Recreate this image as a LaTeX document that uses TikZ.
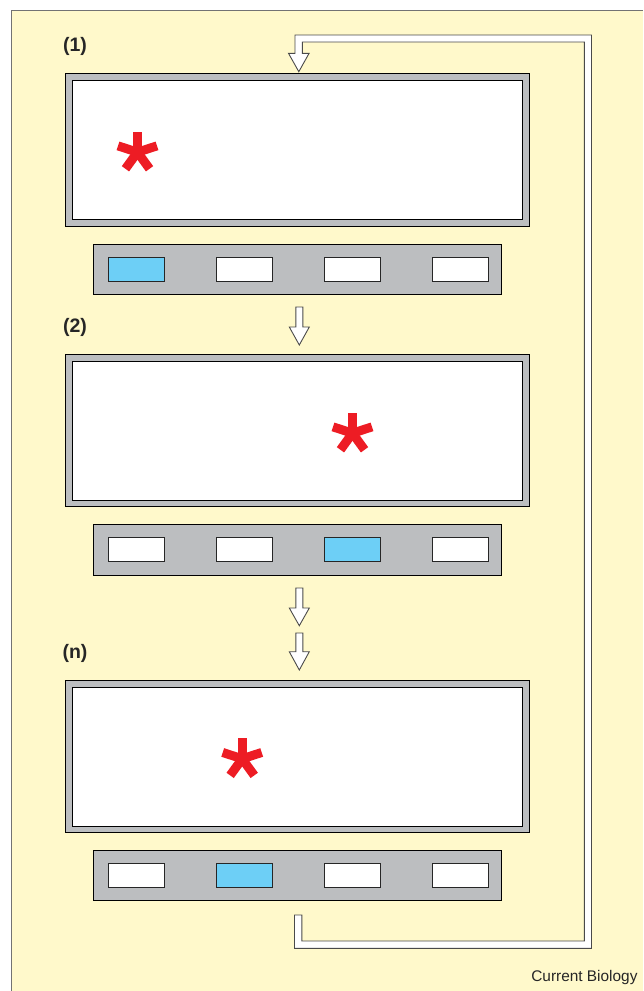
\documentclass[tikz,border=0pt]{standalone}
\usepackage{fontspec}
\setmainfont{Liberation Sans}
\definecolor{paper}{HTML}{FFF9CB}
\definecolor{bezel}{HTML}{BCBEC0}
\definecolor{lit}{HTML}{6DCFF6}
\definecolor{starred}{HTML}{ED1C24}
\definecolor{rim}{HTML}{4A4A4A}
\tikzset{
  frame/.style={draw=black, line width=1pt, fill=bezel, inner sep=0pt, outer sep=0pt,
    minimum width=463.6pt, minimum height=152.7pt},
  screen/.style={draw=black, line width=1pt, fill=white, inner sep=0pt, outer sep=0pt,
    minimum width=450pt, minimum height=139pt},
  strip/.style={draw=black, line width=1pt, fill=bezel, inner sep=0pt, outer sep=0pt,
    minimum width=408.4pt, minimum height=50.7pt},
  slot/.style={draw=black!85, line width=1pt, fill=white, inner sep=0pt, outer sep=0pt,
    minimum width=56pt, minimum height=24pt},
  slotlit/.style={slot, fill=lit},
  hollow/.style={draw=rim, line width=0.9pt, fill=white, line join=miter},
  steplabel/.style={font=\bfseries\fontsize{19.5}{20}\selectfont, text=black!85, inner sep=0pt},
  credit/.style={font=\fontsize{15.4}{16}\selectfont, text=black!85, inner sep=0pt},
  pics/asterisk/.style={code={
    \foreach \a in {270,342,198,126,54}
      \draw[draw=starred, line width=9pt] (0,0) -- (\a:20.5);
  }}
}
\begin{document}
\begin{tikzpicture}[x=1pt, y=-1pt]
\useasboundingbox (0,0) rectangle (643,991);
% panel background
\fill[paper] (11,10) rectangle (643,991);
\draw[black!55, line width=0.8pt] (11,991) -- (11,10) -- (643,10);

% feedback loop from the last strip back to the first screen
\draw[hollow] (294.5,915) -- (294.5,948.3) -- (591.5,948.3) -- (591.5,35) -- (295,35)
  -- (295,53.3) -- (288.5,53.3) -- (298.8,71.7) -- (309.1,53.3) -- (302.4,53.3)
  -- (302.4,42) -- (584.3,42) -- (584.3,941) -- (301.8,941) -- (301.8,915) -- cycle;

% step 1
\node[steplabel] (lab1) at (75,46) {(1)};
\node[frame] (frame1) at (297.5,149.65) {};
\node[screen] (screen1) at (297.5,149.8) {};
\pic at (137.5,152.2) {asterisk};
\node[strip] (strip1) at (297.5,269.35) {};
\node[slotlit] (s11) at (136.3,269.5) {};
\node[slot] (s12) at (244.2,269.5) {};
\node[slot] (s13) at (352.2,269.5) {};
\node[slot] (s14) at (460.2,269.5) {};

% step 2
\node[steplabel] (lab2) at (75,327.5) {(2)};
\node[frame] (frame2) at (297.5,430.35) {};
\node[screen] (screen2) at (297.5,430.5) {};
\pic at (352.5,433.2) {asterisk};
\node[strip] (strip2) at (297.5,549.65) {};
\node[slot] (s21) at (136.3,549.7) {};
\node[slot] (s22) at (244.2,549.7) {};
\node[slotlit] (s23) at (352.2,549.7) {};
\node[slot] (s24) at (460.2,549.7) {};

% step n
\node[steplabel] (labn) at (75,653) {(n)};
\node[frame] (framen) at (297.5,756.35) {};
\node[screen] (screenn) at (297.5,756.5) {};
\pic at (242.2,758.8) {asterisk};
\node[strip] (stripn) at (297.5,875.35) {};
\node[slot] (sn1) at (136.3,875.5) {};
\node[slotlit] (sn2) at (244.2,875.5) {};
\node[slot] (sn3) at (352.2,875.5) {};
\node[slot] (sn4) at (460.2,875.5) {};

% hollow down arrows between steps
\foreach \t/\b/\e in {307/327/345, 588/608/625.7, 633/651.7/670}
  \draw[hollow] (295.8,\t) -- (302.8,\t) -- (302.8,\b) -- (309.3,\b) -- (299.3,\e)
    -- (289.3,\b) -- (295.8,\b) -- cycle;

\node[credit, anchor=east] (credit) at (637.7,978) {Current Biology};
\end{tikzpicture}
\end{document}
